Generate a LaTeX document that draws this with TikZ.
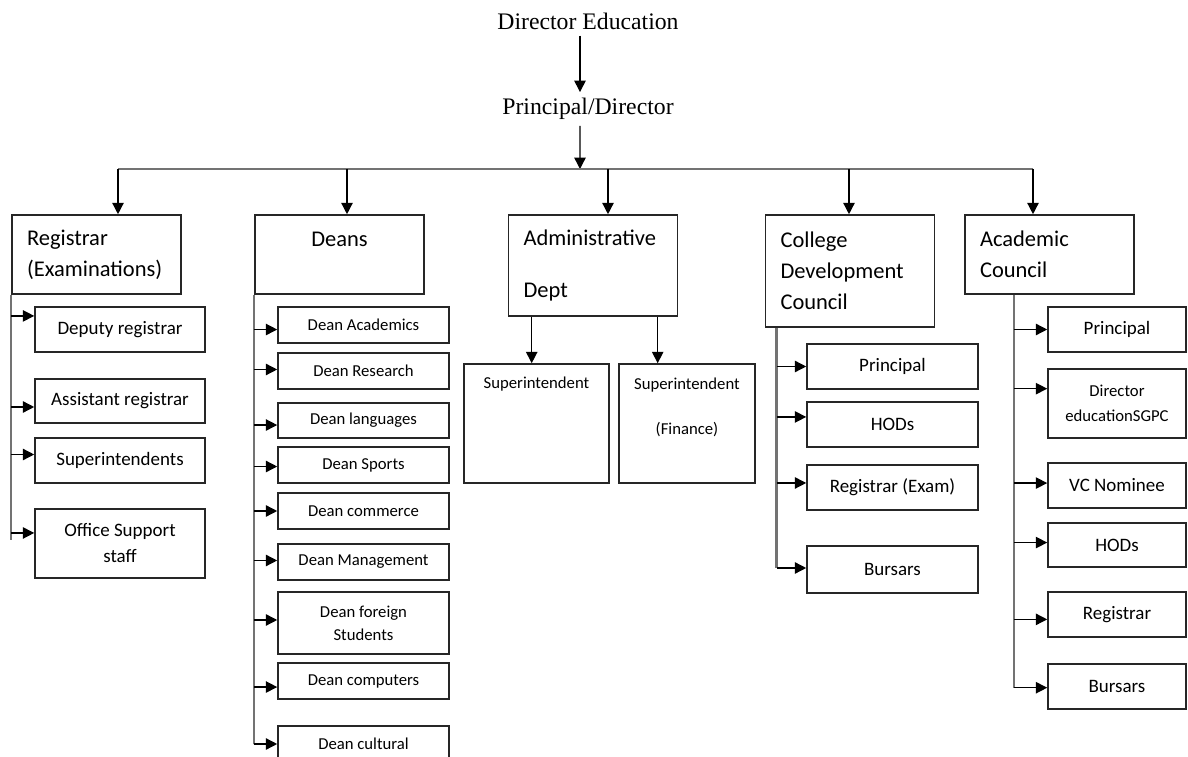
\documentclass[tikz,border=0pt]{standalone}
\usepackage{fontspec}
\setmainfont{Carlito}
\newfontfamily\timesfont{Liberation Serif}
\usetikzlibrary{arrows.meta, positioning}

\tikzset{
  arr/.style={-{Triangle[length=6.5pt,width=6.5pt]}, line width=0.8pt},
  stem/.style={draw=black!55, line width=1.4pt},
  title/.style={font=\timesfont\fontsize{13.5}{16}\selectfont},
  mainbox/.style={draw=black!85, line width=0.9pt, text width=2.78cm, inner xsep=0.3cm,
    align=left, font=\fontsize{12.8}{17.5}\selectfont},
  subbox/.style={draw=black!85, line width=0.9pt, align=center, inner sep=0pt,
    font=\fontsize{10.8}{14.8}\selectfont},
  smallbox/.style={subbox, font=\fontsize{9.5}{13}\selectfont},
}

\begin{document}
\begin{tikzpicture}[x=0.02cm, y=-0.02cm]
  \useasboundingbox (0,0) rectangle (1188,757);
  \clip (0,0) rectangle (1188,757);

  % top of the chart
  \node[title] (dir) at (588,21) {Director Education};
  \node[title] (pd) at (588,109) {Principal/Director};
  \coordinate (bus) at (580,169);
  \draw[arr] ([xshift=-0.16cm]dir.south) -- ([xshift=-0.16cm]pd.north);
  \draw[arr] ([xshift=-0.16cm]pd.south) -- (bus);

  % main boxes
  \node[mainbox, minimum height=1.58cm] (reg) at (96.5,254.5) {Registrar\\(Examinations)};
  \node[mainbox, minimum height=1.58cm, align=center] (dns) at (339.5,254.5) {Deans\\\mbox{}};
  \node[mainbox, minimum height=2.02cm] (adm) at (593,265.5) {Administrative\\[0.44cm]Dept};
  \node[mainbox, minimum height=2.24cm] (cdc) at (850,271) {College\\Development\\Council};
  \node[mainbox, minimum height=1.58cm] (acc) at (1049.5,254.5) {Academic\\Council};

  \coordinate (b1) at (118,169);
  \coordinate (b2) at (347,169);
  \coordinate (b3) at (608,169);
  \coordinate (b4) at (849,169);
  \coordinate (b5) at (1033,169);
  \draw[stem] (b1) -- (b5);
  \foreach \c/\n in {b1/reg, b2/dns, b3/adm, b4/cdc, b5/acc}
    \draw[arr] (\c) -- (\c |- \n.north);

  % registrar
  \node[subbox, minimum width=3.4cm, minimum height=0.9cm] (dep) at (120,329.5) {Deputy registrar};
  \node[subbox, minimum width=3.4cm, minimum height=0.88cm] (ast) at (120,401) {Assistant registrar};
  \node[subbox, minimum width=3.4cm, minimum height=0.9cm] (sps) at (120,460.5) {Superintendents};
  \node[subbox, minimum width=3.4cm, minimum height=1.38cm] (osp) at (120,543.5) {Office Support\\staff};
  \draw[stem] (reg.south west) -- (reg.south west |- osp.173) -- ++(0,7);
  \foreach \b/\a in {dep/171, ast/184, sps/176, osp/173}
    \draw[arr] (reg.south west |- \b.\a) -- (\b.\a);

  % deans
  \node[smallbox, minimum width=3.42cm, minimum height=0.72cm] (acd) at (363.5,325) {Dean Academics};
  \node[smallbox, minimum width=3.42cm, minimum height=0.72cm] (res) at (363.5,371) {Dean Research};
  \node[smallbox, minimum width=3.42cm, minimum height=0.7cm] (lan) at (363.5,420.5) {Dean languages};
  \node[smallbox, minimum width=3.42cm, minimum height=0.72cm] (spo) at (363.5,465) {Dean Sports};
  \node[smallbox, minimum width=3.42cm, minimum height=0.72cm] (com) at (363.5,511) {Dean commerce};
  \node[smallbox, minimum width=3.42cm, minimum height=0.72cm] (mgt) at (363.5,562) {Dean Management};
  \node[smallbox, minimum width=3.42cm, minimum height=1.24cm] (frn) at (363.5,623) {Dean foreign\\Students};
  \node[smallbox, minimum width=3.42cm, minimum height=0.72cm] (cpt) at (363.5,681) {Dean computers};
  \node[smallbox, minimum width=3.42cm, minimum height=0.72cm] (cul) at (363.5,744) {Dean cultural};
  \draw[stem] (dns.south west) -- (dns.south west |- cul.180) -- ++(0,-5);
  \foreach \b/\a in {acd/183, res/179, lan/183, spo/181, com/180, mgt/179, frn/178, cpt/184, cul/180}
    \draw[arr] (dns.south west |- \b.\a) -- (\b.\a);

  % administrative dept
  \node[smallbox, minimum width=2.9cm, minimum height=2.38cm] (sup1) at (536.5,423.5) {Superintendent\\[1.16cm]\mbox{}};
  \node[smallbox, minimum width=2.72cm, minimum height=2.38cm] (sup2) at (687,423.5) {Superintendent\\[0.44cm](Finance)\\[0.22cm]\mbox{}};
  \coordinate (a1) at ([xshift=0.48cm]adm.south west);
  \coordinate (a2) at ([xshift=3cm]adm.south west);
  \draw[arr] (a1) -- (a1 |- sup1.north);
  \draw[arr] (a2) -- (a2 |- sup2.north);

  % college development council
  \node[subbox, minimum width=3.42cm, minimum height=0.9cm] (cpr) at (892.5,366.5) {Principal};
  \node[subbox, minimum width=3.42cm, minimum height=0.9cm] (chd) at (892.5,424.5) {HODs};
  \node[subbox, minimum width=3.42cm, minimum height=0.9cm] (crg) at (892.5,487.5) {Registrar (Exam)};
  \node[subbox, minimum width=3.42cm, minimum height=0.94cm] (cbu) at (892.5,569.5) {Bursars};
  \coordinate (cst) at ([xshift=0.24cm]cdc.south west);
  \draw[stem] (cst) -- (cst |- cbu.179);
  \foreach \b/\a in {cpr/180, chd/175, crg/177, cbu/179}
    \draw[arr] (cst |- \b.\a) -- (\b.\a);

  % academic council
  \node[subbox, minimum width=2.76cm, minimum height=0.9cm] (apr) at (1117,329.5) {Principal};
  \node[smallbox, minimum width=2.76cm, minimum height=1.38cm, font=\fontsize{9.5}{14.2}\selectfont] (ade) at (1117,403.5) {Director\\educationSGPC};
  \node[subbox, minimum width=2.76cm, minimum height=0.9cm] (avc) at (1117,485.5) {VC Nominee};
  \node[subbox, minimum width=2.76cm, minimum height=0.88cm] (ahd) at (1117,545) {HODs};
  \node[subbox, minimum width=2.76cm, minimum height=0.9cm] (arg) at (1117,614.5) {Registrar};
  \node[subbox, minimum width=2.76cm, minimum height=0.9cm] (abu) at (1117,686.5) {Bursars};
  \coordinate (ast2) at ([xshift=1cm]acc.south west);
  \draw[stem] (ast2) -- (ast2 |- abu.181);
  \foreach \b/\a in {apr/180, ade/168, avc/178, ahd/178, arg/184, abu/181}
    \draw[arr] (ast2 |- \b.\a) -- (\b.\a);
\end{tikzpicture}
\end{document}
